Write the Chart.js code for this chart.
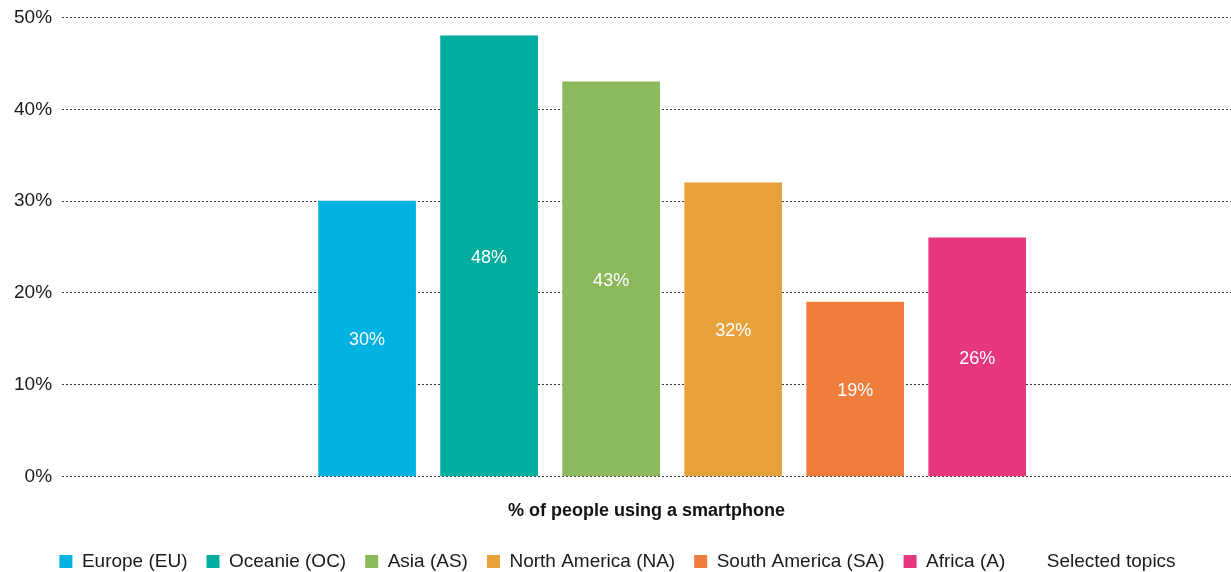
<!DOCTYPE html>
<html>
<head>
<meta charset="utf-8">
<script src="https://cdn.jsdelivr.net/npm/chart.js@4/dist/chart.umd.min.js"></script>
<style>
  html, body { margin: 0; padding: 0; background: #fff; }
  #wrap { width: 1231px; height: 572px; position: relative; }
</style>
</head>
<body>
<div id="wrap"><canvas id="chart"></canvas></div>
<script>
// Smartphone usage by continent
const regions = ["Europe (EU)", "Oceanie (OC)", "Asia (AS)", "North America (NA)", "South America (SA)", "Africa (A)"];
const shares = [30, 48, 43, 32, 19, 26];
const extraLegend = "Selected topics";
const axisTitle = "% of people using a smartphone";
const yTicks = [0, 10, 20, 30, 40, 50];

const barColors = ["#00b2e2", "#00ad9f", "#8db95d", "#e8a13b", "#ee7c3a", "#e6377e"];
const FONT = "'Liberation Sans', Arial, sans-serif";

// one dataset per region so each gets its own legend entry
const datasets = regions.map((name, i) => ({
  label: name,
  data: [{ x: i, y: shares[i] }],
  backgroundColor: barColors[i],
  borderWidth: 0,
  barThickness: 97
}));
datasets.push({ label: extraLegend, data: [], backgroundColor: "rgba(0,0,0,0)", borderWidth: 0 });

// white value labels in the middle of each bar
const barLabels = {
  id: "barLabels",
  afterDatasetsDraw(chart) {
    const ctx = chart.ctx;
    ctx.save();
    ctx.fillStyle = "#fff";
    ctx.font = "18px " + FONT;
    ctx.textAlign = "center";
    ctx.textBaseline = "middle";
    chart.data.datasets.forEach((ds, di) => {
      const meta = chart.getDatasetMeta(di);
      meta.data.forEach((bar, j) => {
        const v = ds.data[j].y;
        ctx.fillText(v + "%", bar.x, (bar.y + bar.base) / 2 + 2);
      });
    });
    ctx.restore();
  }
};

new Chart(document.getElementById("chart"), {
  type: "bar",
  data: { datasets },
  plugins: [barLabels],
  options: {
    responsive: true,
    maintainAspectRatio: false,
    animation: false,
    layout: { padding: { left: 4, right: 0, top: 0, bottom: -9 } },
    plugins: {
      tooltip: { enabled: false },
      legend: {
        position: "bottom",
        labels: {
          boxWidth: 13,
          boxHeight: 13,
          padding: 19,
          color: "#1a1a1a",
          font: { family: FONT, size: 19 }
        }
      }
    },
    scales: {
      x: {
        type: "linear",
        stacked: true,
        offset: false,
        min: -2.5,
        max: 7.08,
        grid: { display: false },
        border: { display: false },
        ticks: { display: false },
        title: {
          display: true,
          text: axisTitle,
          color: "#111",
          font: { family: FONT, size: 18, weight: "bold" },
          padding: { top: 16, bottom: 11 }
        }
      },
      y: {
        stacked: true,
        min: 0,
        max: 50,
        afterBuildTicks(scale) { scale.ticks = yTicks.map(v => ({ value: v })); },
        grid: { color: "#3a3a3a", lineWidth: 1, drawTicks: false },
        border: { display: false, dash: [2, 2] },
        ticks: {
          padding: 10,
          color: "#1a1a1a",
          font: { family: FONT, size: 19, lineHeight: 0.8 },
          callback: v => v + "%"
        }
      }
    }
  }
});
</script>
</body>
</html>
